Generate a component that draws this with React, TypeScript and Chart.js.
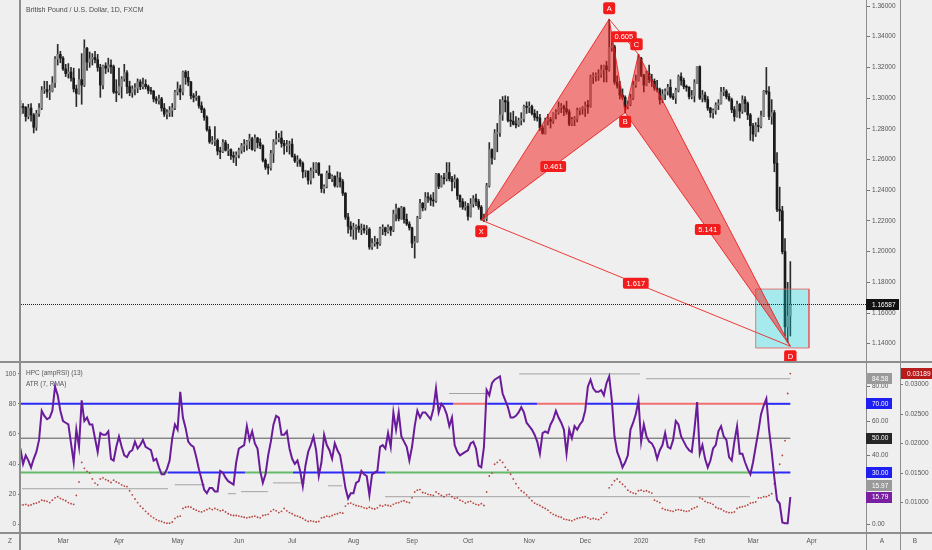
import React, { useEffect, useRef } from "react";
import { Chart, registerables } from "chart.js";

Chart.register(...registerables);

const FONT = "'Liberation Sans', Arial, sans-serif";
const BG = "#efefef";
const FRAME = "#8d8d8d";
const TEXT = "#555555";
const RED = "#f21c1c";

// ---- daily GBP/USD candles, one per weekday from 7 Feb 2019 to 20 Mar 2020 ----
const opens = [
  1.2935, 1.2945, 1.294, 1.288, 1.2935, 1.289, 1.281, 1.29, 1.2935, 1.305,
  1.3055, 1.304, 1.3045, 1.31, 1.3255, 1.3285, 1.326, 1.319, 1.316, 1.317,
  1.313, 1.306, 1.303, 1.312, 1.3085, 1.3325, 1.3235, 1.3255, 1.3265, 1.325,
  1.32, 1.3085, 1.321, 1.3195, 1.3215, 1.3205, 1.304, 1.3035, 1.3075, 1.3125,
  1.3165, 1.3075, 1.3035, 1.306, 1.3065, 1.3105, 1.3075, 1.309, 1.3075, 1.305,
  1.3045, 1.2995, 1.2985, 1.2995, 1.2935, 1.2895, 1.2905, 1.292, 1.2935, 1.304,
  1.306, 1.304, 1.317, 1.3135, 1.3105, 1.3015, 1.3005, 1.301, 1.295, 1.2925,
  1.2875, 1.2795, 1.2715, 1.272, 1.2725, 1.2655, 1.265, 1.271, 1.266, 1.2665,
  1.2625, 1.2615, 1.263, 1.266, 1.269, 1.2695, 1.272, 1.2735, 1.2665, 1.274,
  1.271, 1.269, 1.2595, 1.255, 1.2545, 1.264, 1.2715, 1.273, 1.274, 1.2705,
  1.269, 1.2695, 1.27, 1.262, 1.259, 1.2595, 1.2575, 1.252, 1.2525, 1.2465,
  1.2525, 1.2535, 1.2575, 1.2505, 1.241, 1.2425, 1.251, 1.2475, 1.249, 1.243,
  1.248, 1.2455, 1.238, 1.2225, 1.2165, 1.2145, 1.216, 1.2165, 1.2145, 1.215,
  1.214, 1.2145, 1.203, 1.2055, 1.206, 1.205, 1.215, 1.2155, 1.213, 1.216,
  1.214, 1.2245, 1.228, 1.2215, 1.2285, 1.221, 1.218, 1.2155, 1.2055, 1.2065,
  1.222, 1.2315, 1.2285, 1.2355, 1.235, 1.2335, 1.233, 1.2505, 1.2425, 1.248,
  1.2475, 1.2515, 1.2475, 1.2455, 1.247, 1.2365, 1.2325, 1.229, 1.2295, 1.223,
  1.231, 1.2345, 1.2325, 1.229, 1.221, 1.2215, 1.243, 1.2665, 1.261, 1.277,
  1.2775, 1.289, 1.2985, 1.2975, 1.2855, 1.285, 1.283, 1.2825, 1.2855, 1.2865,
  1.2945, 1.294, 1.2945, 1.29, 1.2875, 1.287, 1.2805, 1.277, 1.2855, 1.286,
  1.285, 1.29, 1.2905, 1.294, 1.2945, 1.293, 1.291, 1.283, 1.286, 1.2865,
  1.292, 1.293, 1.2935, 1.2955, 1.2945, 1.314, 1.3145, 1.315, 1.3155, 1.3185,
  1.321, 1.3185, 1.333, 1.3335, 1.3105, 1.308, 1.302, 1.3005, 1.2945, 1.296,
  1.3, 1.3085, 1.3115, 1.326, 1.315, 1.3085, 1.316, 1.312, 1.311, 1.3065,
  1.3055, 1.299, 1.3025, 1.3045, 1.307, 1.301, 1.3, 1.305, 1.314, 1.3115,
  1.3075, 1.307, 1.301, 1.3015, 1.31, 1.3205, 1.3, 1.302, 1.299, 1.2935,
  1.2905, 1.292, 1.2955, 1.2965, 1.304, 1.3045, 1.301, 1.299, 1.2925, 1.288,
  1.296, 1.2915, 1.299, 1.2965, 1.289, 1.282, 1.2765, 1.282, 1.2815, 1.2885,
  1.3045, 1.304, 1.288, 1.2905, 1.2575, 1.2275, 1.2265, 1.2, 1.151, 1.158,
];
const highs = [
  1.2985, 1.2965, 1.2945, 1.296, 1.2965, 1.29, 1.292, 1.2965, 1.3075, 1.311,
  1.311, 1.3085, 1.314, 1.327, 1.335, 1.3305, 1.327, 1.322, 1.3225, 1.32,
  1.3195, 1.3085, 1.319, 1.329, 1.338, 1.333, 1.33, 1.329, 1.3305, 1.3285,
  1.322, 1.3215, 1.323, 1.326, 1.325, 1.3215, 1.312, 1.3195, 1.314, 1.322,
  1.318, 1.311, 1.308, 1.3095, 1.3125, 1.312, 1.313, 1.312, 1.3085, 1.307,
  1.305, 1.301, 1.302, 1.3005, 1.2965, 1.2925, 1.2945, 1.2965, 1.305, 1.3105,
  1.3085, 1.3176, 1.318, 1.3175, 1.311, 1.303, 1.3045, 1.3015, 1.2975, 1.2935,
  1.2885, 1.2815, 1.275, 1.2815, 1.2735, 1.268, 1.273, 1.2725, 1.27, 1.267,
  1.265, 1.265, 1.2675, 1.2705, 1.273, 1.2725, 1.2765, 1.2745, 1.276, 1.2745,
  1.2735, 1.2695, 1.2605, 1.257, 1.266, 1.273, 1.2785, 1.277, 1.2785, 1.2725,
  1.2725, 1.272, 1.2735, 1.2635, 1.2625, 1.2605, 1.2585, 1.253, 1.2525, 1.2545,
  1.258, 1.258, 1.258, 1.2505, 1.2435, 1.2525, 1.256, 1.25, 1.2495, 1.252,
  1.2515, 1.247, 1.2385, 1.225, 1.2195, 1.2185, 1.2175, 1.221, 1.218, 1.2175,
  1.217, 1.2155, 1.2085, 1.21, 1.2085, 1.216, 1.2175, 1.216, 1.2175, 1.2165,
  1.227, 1.231, 1.2285, 1.2295, 1.229, 1.2245, 1.2195, 1.216, 1.21, 1.223,
  1.234, 1.232, 1.2385, 1.2385, 1.237, 1.2385, 1.251, 1.251, 1.2495, 1.251,
  1.258, 1.258, 1.249, 1.25, 1.248, 1.237, 1.2345, 1.2325, 1.2315, 1.2345,
  1.2365, 1.2375, 1.234, 1.23, 1.2245, 1.2445, 1.271, 1.267, 1.2795, 1.2835,
  1.299, 1.301, 1.3015, 1.301, 1.2905, 1.2915, 1.288, 1.287, 1.2905, 1.2955,
  1.2975, 1.2975, 1.2955, 1.2925, 1.2915, 1.2895, 1.282, 1.287, 1.2895, 1.2875,
  1.2905, 1.2925, 1.2975, 1.2965, 1.2955, 1.298, 1.2925, 1.2875, 1.288, 1.2935,
  1.2935, 1.2945, 1.2975, 1.2985, 1.315, 1.3165, 1.3165, 1.3185, 1.3215, 1.3215,
  1.324, 1.3514, 1.3385, 1.3345, 1.3145, 1.311, 1.306, 1.3015, 1.298, 1.3025,
  1.311, 1.315, 1.3285, 1.3265, 1.3155, 1.3175, 1.3215, 1.3155, 1.3125, 1.3115,
  1.3065, 1.3055, 1.306, 1.309, 1.312, 1.303, 1.3065, 1.315, 1.3165, 1.313,
  1.3085, 1.3075, 1.305, 1.312, 1.3205, 1.321, 1.305, 1.304, 1.301, 1.294,
  1.293, 1.297, 1.299, 1.307, 1.307, 1.3055, 1.303, 1.3, 1.2945, 1.298,
  1.2965, 1.3015, 1.301, 1.2975, 1.29, 1.2835, 1.284, 1.287, 1.2915, 1.305,
  1.32, 1.3075, 1.299, 1.292, 1.2645, 1.242, 1.2295, 1.2085, 1.18, 1.1935,
];
const lows = [
  1.289, 1.29, 1.285, 1.2865, 1.285, 1.2773, 1.279, 1.288, 1.2925, 1.303,
  1.3005, 1.299, 1.304, 1.307, 1.3215, 1.323, 1.318, 1.314, 1.313, 1.311,
  1.304, 1.2945, 1.3025, 1.296, 1.3075, 1.318, 1.32, 1.3215, 1.323, 1.3175,
  1.3005, 1.306, 1.316, 1.317, 1.316, 1.303, 1.2977, 1.302, 1.3, 1.311,
  1.303, 1.3015, 1.3005, 1.302, 1.3035, 1.3055, 1.306, 1.306, 1.303, 1.3025,
  1.2975, 1.2965, 1.296, 1.2915, 1.288, 1.2865, 1.288, 1.288, 1.2925, 1.302,
  1.299, 1.302, 1.309, 1.308, 1.2995, 1.2975, 1.2985, 1.2935, 1.2905, 1.2855,
  1.2785, 1.2705, 1.27, 1.269, 1.263, 1.2605, 1.2645, 1.2655, 1.2625, 1.26,
  1.258, 1.256, 1.261, 1.264, 1.265, 1.266, 1.267, 1.266, 1.2655, 1.2675,
  1.267, 1.2585, 1.2535, 1.2505, 1.253, 1.258, 1.27, 1.2715, 1.268, 1.2635,
  1.265, 1.2635, 1.2615, 1.258, 1.2555, 1.2555, 1.248, 1.2485, 1.244, 1.244,
  1.248, 1.2515, 1.2495, 1.2385, 1.238, 1.2415, 1.2475, 1.2455, 1.242, 1.242,
  1.242, 1.2365, 1.221, 1.212, 1.21, 1.208, 1.208, 1.2125, 1.211, 1.212,
  1.211, 1.2015, 1.2015, 1.2035, 1.202, 1.204, 1.211, 1.2105, 1.212, 1.2105,
  1.213, 1.22, 1.22, 1.221, 1.2185, 1.217, 1.214, 1.2025, 1.1958, 1.206,
  1.2215, 1.2265, 1.227, 1.232, 1.23, 1.2295, 1.232, 1.241, 1.242, 1.244,
  1.246, 1.246, 1.2395, 1.2415, 1.234, 1.229, 1.2275, 1.227, 1.2205, 1.2225,
  1.229, 1.23, 1.2275, 1.2205, 1.2195, 1.22, 1.242, 1.257, 1.26, 1.265,
  1.275, 1.2855, 1.291, 1.2845, 1.2815, 1.2825, 1.2805, 1.2815, 1.2825, 1.2845,
  1.29, 1.2905, 1.289, 1.2855, 1.285, 1.279, 1.2765, 1.2765, 1.2825, 1.2805,
  1.2835, 1.2865, 1.2895, 1.2905, 1.2885, 1.2895, 1.282, 1.282, 1.282, 1.2845,
  1.289, 1.2895, 1.288, 1.29, 1.294, 1.3095, 1.311, 1.3115, 1.3135, 1.3105,
  1.3105, 1.3175, 1.3305, 1.309, 1.3065, 1.2995, 1.299, 1.2905, 1.293, 1.295,
  1.299, 1.307, 1.311, 1.314, 1.304, 1.308, 1.31, 1.3075, 1.305, 1.304,
  1.296, 1.297, 1.299, 1.302, 1.3, 1.299, 1.2965, 1.304, 1.3085, 1.306,
  1.3045, 1.2995, 1.2995, 1.2975, 1.3095, 1.299, 1.2975, 1.2975, 1.292, 1.2875,
  1.287, 1.2895, 1.2925, 1.296, 1.3015, 1.2995, 1.298, 1.2905, 1.285, 1.2875,
  1.287, 1.29, 1.291, 1.286, 1.2725, 1.272, 1.275, 1.278, 1.2805, 1.288,
  1.3025, 1.286, 1.283, 1.252, 1.226, 1.22, 1.1985, 1.145, 1.1409, 1.145,
];
const closes = [
  1.2945, 1.294, 1.288, 1.2935, 1.289, 1.281, 1.29, 1.2935, 1.305, 1.3055,
  1.304, 1.3045, 1.31, 1.3255, 1.3285, 1.326, 1.319, 1.316, 1.317, 1.313,
  1.306, 1.303, 1.312, 1.3085, 1.3325, 1.3235, 1.3255, 1.3265, 1.325, 1.32,
  1.3085, 1.321, 1.3195, 1.3215, 1.3205, 1.304, 1.3035, 1.3075, 1.3125, 1.3165,
  1.3075, 1.3035, 1.306, 1.3065, 1.3105, 1.3075, 1.309, 1.3075, 1.305, 1.3045,
  1.2995, 1.2985, 1.2995, 1.2935, 1.2895, 1.2905, 1.292, 1.2935, 1.304, 1.306,
  1.304, 1.317, 1.3135, 1.3105, 1.3015, 1.3005, 1.301, 1.295, 1.2925, 1.2875,
  1.2795, 1.2715, 1.272, 1.2725, 1.2655, 1.265, 1.271, 1.266, 1.2665, 1.2625,
  1.2615, 1.263, 1.266, 1.269, 1.2695, 1.272, 1.2735, 1.2665, 1.274, 1.271,
  1.269, 1.2595, 1.255, 1.2545, 1.264, 1.2715, 1.273, 1.274, 1.2705, 1.269,
  1.2695, 1.27, 1.262, 1.259, 1.2595, 1.2575, 1.252, 1.2525, 1.2465, 1.2525,
  1.2535, 1.2575, 1.2505, 1.241, 1.2425, 1.251, 1.2475, 1.249, 1.243, 1.248,
  1.2455, 1.238, 1.2225, 1.2165, 1.2145, 1.216, 1.2165, 1.2145, 1.215, 1.214,
  1.2145, 1.203, 1.2055, 1.206, 1.205, 1.215, 1.2155, 1.213, 1.216, 1.214,
  1.2245, 1.228, 1.2215, 1.2285, 1.221, 1.218, 1.2155, 1.2055, 1.2065, 1.222,
  1.2315, 1.2285, 1.2355, 1.235, 1.2335, 1.233, 1.2505, 1.2425, 1.248, 1.2475,
  1.2515, 1.2475, 1.2455, 1.247, 1.2365, 1.2325, 1.229, 1.2295, 1.223, 1.231,
  1.2345, 1.2325, 1.229, 1.221, 1.2215, 1.243, 1.2665, 1.261, 1.277, 1.2775,
  1.289, 1.2985, 1.2975, 1.2855, 1.285, 1.283, 1.2825, 1.2855, 1.2865, 1.2945,
  1.294, 1.2945, 1.29, 1.2875, 1.287, 1.2805, 1.277, 1.2855, 1.286, 1.285,
  1.29, 1.2905, 1.294, 1.2945, 1.293, 1.291, 1.283, 1.286, 1.2865, 1.292,
  1.293, 1.2935, 1.2955, 1.2945, 1.314, 1.3145, 1.315, 1.3155, 1.3185, 1.321,
  1.3185, 1.333, 1.3335, 1.3105, 1.308, 1.302, 1.3005, 1.2945, 1.296, 1.3,
  1.3085, 1.3115, 1.326, 1.315, 1.3085, 1.316, 1.312, 1.311, 1.3065, 1.3055,
  1.299, 1.3025, 1.3045, 1.307, 1.301, 1.3, 1.305, 1.314, 1.3115, 1.3075,
  1.307, 1.301, 1.3015, 1.31, 1.3205, 1.3, 1.302, 1.299, 1.2935, 1.2905,
  1.292, 1.2955, 1.2965, 1.304, 1.3045, 1.301, 1.299, 1.2925, 1.288, 1.296,
  1.2915, 1.299, 1.2965, 1.289, 1.282, 1.2765, 1.282, 1.2815, 1.2885, 1.3045,
  1.304, 1.288, 1.2905, 1.2575, 1.2275, 1.2265, 1.2, 1.151, 1.158, 1.16587,
];

// HPC (ampRSI) (13), one value per bar
const hpc = [
  44, 35, 40, 37, 33, 38, 42, 49, 66, 63, 61, 62, 66, 80, 75, 66, 60, 59, 58, 47,
  36, 55, 45, 72, 60, 62, 58, 58, 50, 42, 53, 52, 52, 54, 38, 37, 45, 51, 45, 40,
  39, 42, 43, 48, 44, 46, 49, 45, 44, 43, 37, 38, 33, 29, 29, 32, 37, 50, 58, 55,
  77, 62, 56, 48, 46, 45, 39, 32, 26, 20, 18, 21, 21, 19, 19, 31, 30, 27, 25, 24,
  23, 36, 44, 45, 46, 57, 49, 54, 47, 44, 31, 24, 29, 40, 48, 58, 63, 62, 52, 52,
  54, 44, 38, 35, 37, 31, 22, 34, 42, 46, 51, 43, 28, 36, 52, 46, 43, 38, 47, 43,
  40, 31, 21, 15, 18, 18, 24, 25, 31, 29, 28, 17, 29, 30, 31, 45, 46, 44, 53, 45,
  65, 55, 65, 51, 48, 45, 37, 45, 57, 66, 62, 65, 65, 63, 61, 67, 79, 65, 70, 68,
  64, 57, 62, 46, 42, 40, 41, 42, 43, 47, 48, 44, 34, 33, 45, 78, 75, 82, 84, 85,
  86, 76, 72, 68, 62, 62, 63, 65, 68, 65, 59, 57, 55, 52, 48, 41, 53, 54, 53, 58,
  61, 66, 62, 59, 55, 41, 55, 50, 57, 55, 58, 60, 66, 80, 84, 79, 77, 77, 78, 75,
  82, 86, 72, 51, 42, 38, 33, 36, 40, 55, 59, 64, 72, 48, 58, 51, 48, 47, 44, 38,
  43, 46, 53, 45, 44, 49, 60, 58, 51, 48, 45, 43, 42, 55, 71, 41, 46, 38, 33, 37,
  44, 46, 54, 57, 51, 49, 39, 37, 48, 57, 41, 41, 36, 32, 29, 36, 45, 54, 64, 69,
  73, 55, 42, 27, 14, 12, 1, 0.5, 0.5, 15.79,
];

// ATR (7, RMA), one value per bar
const atr = [
  0.0097, 0.0096, 0.0097, 0.0095, 0.0096, 0.0098, 0.0099, 0.0101, 0.0104, 0.0103,
  0.0102, 0.01, 0.0104, 0.0108, 0.011, 0.0107, 0.0105, 0.0103, 0.01, 0.0098,
  0.0097, 0.0112, 0.0135, 0.0168, 0.0158, 0.0153, 0.015, 0.014, 0.0133, 0.013,
  0.014, 0.0142, 0.0139, 0.0137, 0.0134, 0.0138, 0.0135, 0.0133, 0.013, 0.0128,
  0.0127, 0.012, 0.0113, 0.0106, 0.01, 0.0094, 0.009, 0.0085, 0.0081, 0.0077,
  0.0074, 0.0071, 0.0069, 0.0068, 0.0066, 0.0065, 0.0065, 0.0067, 0.0073, 0.0076,
  0.0077, 0.009, 0.0092, 0.0093, 0.0092, 0.0089, 0.0087, 0.0085, 0.0084, 0.0086,
  0.0088, 0.009, 0.0088, 0.009, 0.0088, 0.0086, 0.0087, 0.0084, 0.0081, 0.0079,
  0.0078, 0.0078, 0.0077, 0.0076, 0.0075, 0.0074, 0.0075, 0.0076, 0.0077, 0.0075,
  0.0074, 0.0078, 0.0079, 0.008, 0.0085, 0.0088, 0.0086, 0.0083, 0.0085, 0.009,
  0.0086, 0.0083, 0.0081, 0.0078, 0.0077, 0.0075, 0.0073, 0.007, 0.0068, 0.0069,
  0.0068, 0.0067, 0.0068, 0.0074, 0.0075, 0.0077, 0.0076, 0.0078, 0.008, 0.0081,
  0.0083, 0.0082, 0.0094, 0.0098, 0.0099, 0.0097, 0.0095, 0.0094, 0.0093, 0.0091,
  0.009, 0.0092, 0.009, 0.0089, 0.0091, 0.0095, 0.0094, 0.0096, 0.0095, 0.0094,
  0.0097, 0.0099, 0.01, 0.0102, 0.0103, 0.0101, 0.01, 0.0108, 0.0118, 0.0121,
  0.0122, 0.0117, 0.0116, 0.0114, 0.0113, 0.0112, 0.0118, 0.0115, 0.0112, 0.011,
  0.0113, 0.0114, 0.011, 0.0107, 0.0108, 0.0104, 0.0102, 0.0099, 0.0101, 0.0102,
  0.0099, 0.0097, 0.0096, 0.0098, 0.0095, 0.0118, 0.0145, 0.015, 0.0165, 0.0168,
  0.0172, 0.0168, 0.016, 0.0155, 0.0148, 0.014, 0.0132, 0.0125, 0.012, 0.0117,
  0.0113, 0.0108, 0.0103, 0.0099, 0.0097, 0.0095, 0.0092, 0.009, 0.0087, 0.0083,
  0.008, 0.0078, 0.0076, 0.0075, 0.0072, 0.0071, 0.007, 0.0069, 0.0071, 0.0073,
  0.0074, 0.0075, 0.0076, 0.0074, 0.0072, 0.0073, 0.0072, 0.0071, 0.0074, 0.008,
  0.0083, 0.0125, 0.013, 0.0137, 0.014, 0.0135, 0.0131, 0.0127, 0.0121, 0.0118,
  0.0116, 0.0115, 0.012, 0.0121, 0.0119, 0.012, 0.0118, 0.0116, 0.0104, 0.0102,
  0.01, 0.009, 0.0088, 0.0087, 0.0086, 0.0085, 0.0087, 0.0088, 0.0087, 0.0086,
  0.0085, 0.0086, 0.0089, 0.0091, 0.0093, 0.0108, 0.0106, 0.0102, 0.01, 0.0099,
  0.0097, 0.0092, 0.009, 0.0089, 0.0086, 0.0084, 0.0083, 0.0083, 0.0084, 0.009,
  0.0092, 0.0093, 0.0094, 0.0096, 0.0099, 0.01, 0.0101, 0.0108, 0.0108, 0.011,
  0.011, 0.0112, 0.0115, 0.0132, 0.015, 0.0165, 0.018, 0.0205, 0.0285, 0.03189,
];

// month tick labels: bar index of the first bar of each month
const monthTickIndex = [16, 37, 59, 82, 102, 125, 147, 168, 191, 212, 233, 255, 275, 297];
const monthTickLabel = ["Mar", "Apr", "May", "Jun", "Jul", "Aug", "Sep", "Oct", "Nov", "Dec", "2020", "Feb", "Mar", "Apr"];

const priceTicks = [1.14, 1.16, 1.18, 1.2, 1.22, 1.24, 1.26, 1.28, 1.3, 1.32, 1.34, 1.36];
const lastPrice = 1.16587;

// XABCD pattern
const patternName = ["X", "A", "B", "C", "D"];
const patternIndex = [173, 221, 227, 232, 289];
const patternPrice = [1.2205, 1.3514, 1.2905, 1.3285, 1.1383];
const patternLabelDy = [11, -11, 9, -10, 10];
const ratioText = ["0.461", "0.605", "5.141", "1.617"];
const ratioFrom = [0, 1, 2, 0];
const ratioTo = [2, 3, 4, 4];
const zoneIndex = [276, 296];
const zonePrice = [1.1372, 1.1756];

// indicator levels (axis A) with colour runs
const BLUE = "#2b2bf5";
const LRED = "#f07070";
const GREEN = "#66bb6a";
const level70 = [[0.2, 162.4, BLUE], [162.4, 175.2, LRED], [175.2, 193.9, BLUE], [193.9, 212.7, LRED], [212.7, 232.6, BLUE], [232.6, 279.5, LRED], [279.5, 289, BLUE]];
const level30 = [[0.2, 55.4, GREEN], [55.4, 84.3, BLUE], [84.3, 102.3, GREEN], [102.3, 136.9, BLUE], [136.9, 273.9, GREEN], [273.9, 289, BLUE]];
const pivotFrom = [0.6, 58, 77.9, 82.8, 94.8, 115.5, 136.9, 160.9, 187.2, 234.8];
const pivotTo = [55.4, 69.3, 80.9, 92.9, 106.8, 120.7, 273.9, 174.4, 232.6, 289];
const pivotLevel = [20.6, 22.9, 17.7, 18.9, 24, 22.3, 15.97, 76, 87.4, 84.58];

const X_MIN = 0.225;
const X_MAX = 317.4;

function tag(ctx: CanvasRenderingContext2D, text: string, cx: number, cy: number, minW: number, h: number, bg: string) {
  ctx.font = `7.5px ${FONT}`;
  const w = Math.max(minW, ctx.measureText(text).width + 7);
  const x = cx - w / 2;
  const y = cy - h / 2;
  const r = 2;
  ctx.fillStyle = bg;
  ctx.beginPath();
  ctx.moveTo(x + r, y);
  ctx.arcTo(x + w, y, x + w, y + h, r);
  ctx.arcTo(x + w, y + h, x, y + h, r);
  ctx.arcTo(x, y + h, x, y, r);
  ctx.arcTo(x, y, x + w, y, r);
  ctx.closePath();
  ctx.fill();
  ctx.fillStyle = "#fff";
  ctx.textAlign = "center";
  ctx.textBaseline = "middle";
  ctx.fillText(text, cx, cy + 0.5);
}

function axisBox(ctx: CanvasRenderingContext2D, text: string, left: number, cy: number, w: number, bg: string) {
  ctx.fillStyle = bg;
  ctx.fillRect(left, Math.round(cy - 5.5), w, 11);
  ctx.fillStyle = "#fff";
  ctx.font = `6.5px ${FONT}`;
  ctx.textAlign = "left";
  ctx.textBaseline = "middle";
  ctx.fillText(text, left + 6, cy + 0.5);
}

const topDecor = {
  id: "topDecor",
  afterDraw(chart: any) {
    const ctx = chart.ctx as CanvasRenderingContext2D;
    const xs = chart.scales.x;
    const ys = chart.scales.y;
    const { left, right } = chart.chartArea;
    ctx.save();
    // last price line
    const yp = Math.round(ys.getPixelForValue(lastPrice)) + 0.5;
    ctx.strokeStyle = "#222";
    ctx.lineWidth = 1;
    ctx.setLineDash([1, 1]);
    ctx.beginPath();
    ctx.moveTo(left, yp);
    ctx.lineTo(right, yp);
    ctx.stroke();
    ctx.setLineDash([]);
    // pattern labels
    ratioText.forEach((t, k) => {
      const a = ratioFrom[k];
      const b = ratioTo[k];
      const cx = xs.getPixelForValue((patternIndex[a] + patternIndex[b]) / 2);
      const cy = ys.getPixelForValue((patternPrice[a] + patternPrice[b]) / 2);
      tag(ctx, t, cx, cy, 24, 11, RED);
    });
    patternName.forEach((n, k) => {
      const cx = xs.getPixelForValue(patternIndex[k]) + (n === "C" ? -2 : 0);
      const cy = ys.getPixelForValue(patternPrice[k]) + patternLabelDy[k];
      tag(ctx, n, cx, cy, 12, 12, RED);
    });
    // frame
    ctx.fillStyle = FRAME;
    ctx.fillRect(19, 0, 2, chart.height);
    ctx.fillRect(866, 0, 1, chart.height);
    ctx.fillRect(900, 0, 1, chart.height);
    ctx.fillRect(0, chart.height - 1, chart.width, 1);
    axisBox(ctx, lastPrice.toFixed(5), 866, yp, 33, "#111");
    // title
    ctx.fillStyle = "#4a4a4a";
    ctx.font = `7px ${FONT}`;
    ctx.textAlign = "left";
    ctx.textBaseline = "middle";
    ctx.fillText("British Pound / U.S. Dollar, 1D, FXCM", 26, 10.5);
    ctx.restore();
  },
};

const bottomDecor = {
  id: "bottomDecor",
  afterDraw(chart: any) {
    const ctx = chart.ctx as CanvasRenderingContext2D;
    const a = chart.scales.A;
    const b = chart.scales.B;
    ctx.save();
    ctx.fillStyle = FRAME;
    ctx.fillRect(19, 0, 2, chart.height);
    ctx.fillRect(866, 0, 1, chart.height);
    ctx.fillRect(900, 0, 1, chart.height);
    ctx.fillRect(0, 0, chart.width, 1);
    ctx.fillRect(0, 170, chart.width, 2);
    axisBox(ctx, "84.58", 866, a.getPixelForValue(84.58), 26, "#9a9a9a");
    axisBox(ctx, "70.00", 866, a.getPixelForValue(70), 26, "#1f1ff2");
    axisBox(ctx, "50.00", 866, a.getPixelForValue(50), 26, "#262626");
    axisBox(ctx, "30.00", 866, a.getPixelForValue(30), 26, "#1f1ff2");
    axisBox(ctx, "15.97", 866, a.getPixelForValue(15.97) - 11, 26, "#9a9a9a");
    axisBox(ctx, "15.79", 866, a.getPixelForValue(15.79), 26, "#7b1fa2");
    axisBox(ctx, "0.03189", 901, b.getPixelForValue(0.03189), 31, "#b71c1c");
    ctx.fillStyle = TEXT;
    ctx.font = `6.5px ${FONT}`;
    ctx.textAlign = "left";
    ctx.textBaseline = "middle";
    ctx.fillText("HPC (ampRSI) (13)", 26, 11.5);
    ctx.fillText("ATR (7, RMA)", 26, 22);
    ctx.textAlign = "center";
    ctx.fillText("Z", 10, 179);
    ctx.fillText("A", 882, 179);
    ctx.fillText("B", 915, 179);
    ctx.restore();
  },
};

const tickFont = { family: FONT, size: 6.5 };

function segment(from: number, to: number, y: number, color: string, width: number) {
  return {
    type: "line",
    data: [{ x: from, y }, { x: to, y }],
    borderColor: color,
    borderWidth: width,
    pointRadius: 0,
    yAxisID: "A",
    order: 3,
  };
}

export default function App() {
  const topRef = useRef<HTMLCanvasElement>(null);
  const botRef = useRef<HTMLCanvasElement>(null);

  useEffect(() => {
    if (!topRef.current || !botRef.current) return;
    const pt = (k: number) => ({ x: patternIndex[k], y: patternPrice[k] });
    const up = (i: number) => closes[i] >= opens[i];

    const top = new Chart(topRef.current, {
      type: "bar",
      data: {
        datasets: [
          {
            type: "line",
            data: [pt(0), pt(1), pt(2), pt(0)],
            fill: "shape",
            backgroundColor: "rgba(242, 30, 30, 0.52)",
            borderColor: "rgba(235, 25, 25, 0.85)",
            borderWidth: 1,
            pointRadius: 0,
            order: 0,
          },
          {
            type: "line",
            data: [pt(2), pt(3), pt(4), pt(2)],
            fill: "shape",
            backgroundColor: "rgba(242, 30, 30, 0.52)",
            borderColor: "rgba(235, 25, 25, 0.85)",
            borderWidth: 1,
            pointRadius: 0,
            order: 0,
          },
          { type: "line", data: [pt(0), pt(4)], borderColor: "rgba(235, 40, 40, 0.9)", borderWidth: 1, pointRadius: 0, order: 0 },
          { type: "line", data: [pt(1), pt(3)], borderColor: "rgba(235, 40, 40, 0.9)", borderWidth: 1, pointRadius: 0, order: 0 },
          {
            type: "line",
            data: [
              { x: zoneIndex[0], y: zonePrice[1] },
              { x: zoneIndex[1], y: zonePrice[1] },
              { x: zoneIndex[1], y: zonePrice[0] },
              { x: zoneIndex[0], y: zonePrice[0] },
              { x: zoneIndex[0], y: zonePrice[1] },
            ],
            fill: "shape",
            backgroundColor: "rgba(0, 222, 232, 0.3)",
            borderColor: "rgba(232, 90, 90, 0.8)",
            borderWidth: 1,
            pointRadius: 0,
            order: 0,
          },
          {
            data: closes.map((c, i) => ({ x: i, y: [opens[i], c] })),
            backgroundColor: (c: any) => (up(c.dataIndex) ? "#858585" : "#1a1a1a"),
            barThickness: 2,
            minBarLength: 1,
            grouped: false,
            order: 1,
          },
          {
            data: closes.map((_, i) => ({ x: i, y: [lows[i], highs[i]] })),
            backgroundColor: "#2a2a2a",
            barThickness: 1,
            grouped: false,
            order: 2,
          },
        ],
      } as any,
      options: {
        animation: false,
        responsive: false,
        events: [],
        layout: { padding: { left: 21, top: 0, right: 0, bottom: 1 } },
        plugins: { legend: { display: false }, tooltip: { enabled: false } },
        scales: {
          x: { type: "linear", display: false, min: X_MIN, max: X_MAX, offset: false },
          y: {
            position: "right",
            // price window: top edge at pixel 0, bottom edge at pixel 361
            min: 1.36 - 355 / 1535,
            max: 1.36 + 6 / 1535,
            afterFit: (s: any) => {
              s.width = 66;
              s.paddingTop = 0;
              s.paddingBottom = 0;
            },
            afterBuildTicks: (s: any) => {
              s.ticks = priceTicks.map((v) => ({ value: v }));
            },
            ticks: { font: tickFont, color: TEXT, padding: 2, callback: (v: any) => Number(v).toFixed(5) },
            grid: { drawOnChartArea: false, drawTicks: true, tickLength: 4, color: "#777" },
            border: { display: false },
          },
        },
      } as any,
      plugins: [topDecor],
    });

    const bottom = new Chart(botRef.current, {
      type: "line",
      data: {
        datasets: [
          {
            data: hpc.map((v, i) => ({ x: i, y: v })),
            borderColor: "#6a1b9a",
            borderWidth: 2,
            pointRadius: 0,
            yAxisID: "A",
            order: 0,
          },
          {
            data: atr.map((v, i) => ({ x: i, y: v })),
            showLine: false,
            pointRadius: 0.9,
            pointBorderWidth: 0,
            pointBackgroundColor: "#b8433f",
            yAxisID: "B",
            order: 1,
          },
          ...level70.map((s) => segment(s[0] as number, s[1] as number, 70, s[2] as string, 2)),
          ...level30.map((s) => segment(s[0] as number, s[1] as number, 30, s[2] as string, 2)),
          segment(0.2, 289, 50, "#555", 1),
          ...pivotLevel.map((v, k) => segment(pivotFrom[k], pivotTo[k], v, "#a3a3a3", 1)),
        ],
      } as any,
      options: {
        animation: false,
        responsive: false,
        events: [],
        layout: { padding: { top: 1, left: 0, right: 0, bottom: 0 } },
        plugins: { legend: { display: false }, tooltip: { enabled: false } },
        scales: {
          x: {
            type: "linear",
            min: X_MIN,
            max: X_MAX,
            offset: false,
            afterFit: (s: any) => {
              s.height = 18;
              s.paddingLeft = 0;
              s.paddingRight = 0;
            },
            afterBuildTicks: (s: any) => {
              s.ticks = monthTickIndex.map((v) => ({ value: v }));
            },
            ticks: { font: tickFont, color: TEXT, padding: 3, autoSkip: false, maxRotation: 0, callback: (_v: any, i: number) => monthTickLabel[i] },
            grid: { drawOnChartArea: false, drawTicks: true, tickLength: 2, color: "#777" },
            border: { display: false },
          },
          L: {
            position: "left",
            min: -5.23,
            max: 105.23,
            afterFit: (s: any) => {
              s.width = 21;
              s.paddingTop = 0;
              s.paddingBottom = 0;
            },
            afterBuildTicks: (s: any) => {
              s.ticks = [0, 20, 40, 60, 80, 100].map((v) => ({ value: v }));
            },
            ticks: { font: tickFont, color: TEXT, padding: 2 },
            grid: { drawOnChartArea: false, drawTicks: true, tickLength: 3, color: "#777" },
            border: { display: false },
          },
          A: {
            position: "right",
            weight: 0,
            min: -4.571,
            max: 92.0,
            afterFit: (s: any) => {
              s.width = 34;
              s.paddingTop = 0;
              s.paddingBottom = 0;
            },
            afterBuildTicks: (s: any) => {
              s.ticks = [0, 40, 60, 80].map((v) => ({ value: v }));
            },
            ticks: { font: tickFont, color: TEXT, padding: 2, callback: (v: any) => Number(v).toFixed(2) },
            grid: { drawOnChartArea: false, drawTicks: true, tickLength: 4, color: "#777" },
            border: { display: false },
          },
          B: {
            position: "right",
            weight: 1,
            min: 0.005,
            max: 0.033167,
            afterFit: (s: any) => {
              s.width = 32;
              s.paddingTop = 0;
              s.paddingBottom = 0;
            },
            afterBuildTicks: (s: any) => {
              s.ticks = [0.01, 0.015, 0.02, 0.025, 0.03].map((v) => ({ value: v }));
            },
            ticks: { font: tickFont, color: TEXT, padding: 2, callback: (v: any) => Number(v).toFixed(5) },
            grid: { drawOnChartArea: false, drawTicks: true, tickLength: 3, color: "#777" },
            border: { display: false },
          },
        },
      } as any,
      plugins: [bottomDecor],
    });

    return () => {
      top.destroy();
      bottom.destroy();
    };
  }, []);

  return (
    <div style={{ position: "fixed", left: 0, top: 0, width: 932, height: 550, background: BG }}>
      <canvas ref={topRef} width={932} height={362} style={{ display: "block" }} />
      <canvas ref={botRef} width={932} height={188} style={{ display: "block" }} />
    </div>
  );
}
